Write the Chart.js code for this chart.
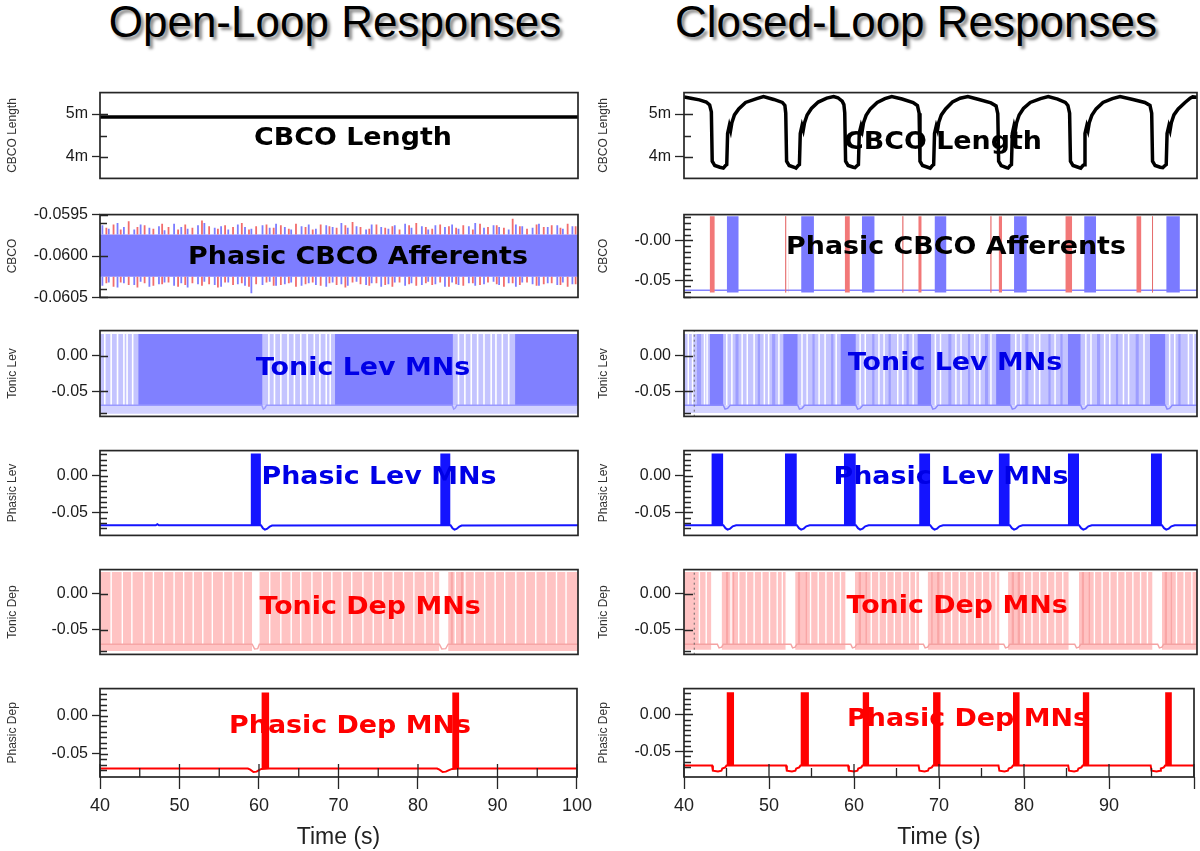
<!DOCTYPE html>
<html><head><meta charset="utf-8">
<script src="https://cdn.jsdelivr.net/npm/chart.js@4.4.1/dist/chart.umd.min.js"></script>
<style>
html,body{margin:0;padding:0;background:#fff;overflow:hidden;width:1200px;height:851px;}
#wrap{position:relative;width:1200px;height:851px;overflow:hidden;}
canvas{position:absolute;}
.main{position:absolute;top:0;font-family:'Liberation Sans',Arial,sans-serif;font-size:44px;line-height:44px;color:#000;text-shadow:3px 3px 3px rgba(0,0,0,0.45);white-space:nowrap;transform:translateX(-50%);}
.lbl{position:absolute;font-family:'DejaVu Sans',Verdana,sans-serif;font-weight:bold;font-size:24px;line-height:24px;white-space:nowrap;transform:translate(-50%,-50%) scaleX(1.12);z-index:5;}
</style></head><body><div id="wrap"></div>
<script>
// ================= DATA =================
const xTickVals = [40,45,50,55,60,65,70,75,80,85,90,95,100];
const xLabelValsOpen = [40,50,60,70,80,90,100];
const xLabelValsClosed = [40,50,60,70,80,90];
const xMajorTicks = [40,50,60,70,80,90,100];
const xMinorTicks = [45,55,65,75,85,95];

const lenTicks = [4,5];
const lenTickLabels = ['4m','5m'];
const lenMinor = [4.5];
const affOpenTicks = [-0.0605,-0.0600,-0.0595];
const affOpenTickLabels = ['-0.0605','-0.0600','-0.0595'];
const affOpenMinor = [-0.0604,-0.0596];
const mnTicks = [-0.05,0];
const mnTickLabels = ['-0.05','0.00'];
const affClosedTickLabels = ['-0.05','-0.00'];
const phasicMinor = [0.0286,0.0214,0.0143,0.0071,-0.0071,-0.0143,-0.0214,-0.0286,-0.0357,-0.0429,-0.0571,-0.0643,-0.0714];
const tonicMinor = [-0.08];

// ---- Open loop ----
const lenOpenT = [40,100];
const lenOpenV = [4.93,4.93];

const affOpenBand = [-0.06025,-0.05974];
const affBlueT = [40.3,41.1,42.2,43.0,44.3,45.1,46.2,47.4,48.1,49.3,
  50.2,51.0,52.3,53.1,54.4,55.2,56.1,57.3,58.2,59.0,
  60.4,61.3,62.1,63.2,64.0,65.3,66.2,67.1,68.4,69.2,
  70.3,71.1,72.2,73.4,74.1,75.3,76.2,77.0,78.3,79.1,
  80.4,81.2,82.1,83.3,84.2,85.0,86.3,87.1,88.2,89.4,
  90.1,91.3,92.2,93.0,94.3,95.1,96.2,97.4,98.1,99.3];
const affBlueUp = [-0.05963,-0.05967,-0.05960,-0.05965,-0.05968,-0.05962,-0.05966,-0.05964,-0.05969,-0.05961,
  -0.05965,-0.05967,-0.05963,-0.05960,-0.05966,-0.05964,-0.05968,-0.05962,-0.05965,-0.05967,
  -0.05963,-0.05966,-0.05961,-0.05965,-0.05968,-0.05964,-0.05962,-0.05967,-0.05963,-0.05965,
  -0.05960,-0.05966,-0.05964,-0.05968,-0.05962,-0.05965,-0.05967,-0.05963,-0.05961,-0.05966,
  -0.05964,-0.05968,-0.05963,-0.05965,-0.05962,-0.05967,-0.05964,-0.05960,-0.05966,-0.05963,
  -0.05965,-0.05968,-0.05962,-0.05964,-0.05966,-0.05961,-0.05965,-0.05963,-0.05967,-0.05964];
const affBlueDn = [-0.06036,-0.06032,-0.06038,-0.06033,-0.06035,-0.06031,-0.06037,-0.06034,-0.06032,-0.06036,
  -0.06033,-0.06038,-0.06034,-0.06031,-0.06035,-0.06037,-0.06032,-0.06034,-0.06036,-0.06045,
  -0.06035,-0.06031,-0.06036,-0.06034,-0.06032,-0.06036,-0.06033,-0.06035,-0.06037,-0.06032,
  -0.06034,-0.06036,-0.06031,-0.06035,-0.06033,-0.06037,-0.06034,-0.06032,-0.06036,-0.06033,
  -0.06035,-0.06031,-0.06034,-0.06037,-0.06032,-0.06035,-0.06033,-0.06036,-0.06034,-0.06031,
  -0.06035,-0.06033,-0.06037,-0.06032,-0.06034,-0.06036,-0.06033,-0.06035,-0.06032,-0.06034];
const affRedT = [40.8,41.7,42.6,43.6,44.7,45.6,46.7,47.8,48.6,49.8,
  50.7,51.6,52.8,53.7,54.8,55.7,56.7,57.8,58.7,59.6,
  60.9,61.8,62.7,63.7,64.6,65.8,66.7,67.7,68.8,69.7,
  70.8,71.7,72.7,73.8,74.7,75.8,76.7,77.6,78.8,79.7,
  80.9,81.7,82.7,83.8,84.7,85.6,86.8,87.7,88.7,89.8,
  90.7,91.8,92.7,93.6,94.8,95.7,96.7,97.8,98.7,99.7];
const affRedUp = [-0.05966,-0.05962,-0.05968,-0.05958,-0.05965,-0.05963,-0.05967,-0.05961,-0.05965,-0.05968,
  -0.05962,-0.05966,-0.05957,-0.05964,-0.05967,-0.05963,-0.05965,-0.05960,-0.05968,-0.05964,
  -0.05962,-0.05966,-0.05963,-0.05967,-0.05961,-0.05965,-0.05968,-0.05962,-0.05964,-0.05966,
  -0.05963,-0.05959,-0.05965,-0.05967,-0.05962,-0.05966,-0.05964,-0.05968,-0.05963,-0.05960,
  -0.05965,-0.05967,-0.05962,-0.05964,-0.05966,-0.05963,-0.05968,-0.05961,-0.05965,-0.05963,
  -0.05966,-0.05955,-0.05964,-0.05967,-0.05962,-0.05965,-0.05963,-0.05966,-0.05961,-0.05964];
const affRedDn = [-0.06033,-0.06037,-0.06032,-0.06035,-0.06038,-0.06033,-0.06036,-0.06034,-0.06032,-0.06037,
  -0.06035,-0.06033,-0.06036,-0.06034,-0.06038,-0.06032,-0.06035,-0.06033,-0.06037,-0.06034,
  -0.06032,-0.06036,-0.06035,-0.06033,-0.06037,-0.06034,-0.06032,-0.06036,-0.06033,-0.06035,
  -0.06038,-0.06032,-0.06034,-0.06036,-0.06033,-0.06035,-0.06037,-0.06032,-0.06034,-0.06036,
  -0.06033,-0.06035,-0.06032,-0.06037,-0.06034,-0.06036,-0.06033,-0.06035,-0.06032,-0.06034,
  -0.06037,-0.06033,-0.06035,-0.06032,-0.06036,-0.06034,-0.06033,-0.06035,-0.06037,-0.06034];

const tlevOpenDense = [[44.8,60.4],[69.5,84.3],[92.1,100]];
const tlevOpenGaps = [40.6,41.4,42.2,43.0,43.4,44.1,61.2,61.9,62.7,63.6,64.4,65.2,66.0,66.9,67.6,68.4,68.9,85.0,85.8,86.6,87.4,88.2,89.1,89.7,90.5,91.3];
const tlevOpenBaseT = [40,60.3,60.5,60.7,60.9,84.2,84.4,84.6,84.8,100];
const tlevOpenBaseV = [-0.069,-0.069,-0.0745,-0.073,-0.069,-0.069,-0.0745,-0.073,-0.069,-0.069];

const plevOpenBursts = [[58.9,60.2],[82.7,84.0]];
const plevOpenT = [40,47.0,47.2,47.4,58.9,60.2,60.45,60.7,60.95,61.3,61.6,82.7,84.0,84.25,84.5,84.75,85.1,85.4,100];
const plevOpenV = [-0.0675,-0.0675,-0.066,-0.0675,-0.0675,-0.0675,-0.0715,-0.0735,-0.0725,-0.0695,-0.068,-0.0675,-0.0675,-0.0715,-0.0735,-0.0725,-0.0695,-0.068,-0.0675];

const tdepOpenFill = [[40,59.1],[60.0,82.6],[83.7,100]];
const tdepOpenDark = [[84.0,84.3],[85.3,85.6]];
const tdepOpenLines = [41.4,42.8,44.0,45.5,46.7,48.0,49.3,50.5,51.7,52.9,54.1,55.5,56.7,58.0,
  61.3,62.7,64.0,65.2,66.6,67.9,69.1,70.4,71.6,73.0,74.3,75.5,76.8,78.1,79.4,80.8,81.9,
  84.6,85.8,87.0,88.3,89.6,90.8,92.2,93.4,94.7,96.0,97.3,98.5];
const tdepOpenBaseT = [40,59.1,59.4,59.8,60.0,82.6,82.9,83.4,83.7,100];
const tdepOpenBaseV = [-0.0705,-0.0705,-0.077,-0.0765,-0.0705,-0.0705,-0.077,-0.0765,-0.0705,-0.0705];

const pdepOpenBursts = [[60.3,61.3],[84.3,85.2]];
const pdepOpenT = [40,58.6,58.9,59.3,59.7,60.0,60.3,61.3,82.4,82.7,83.1,83.5,83.9,84.3,85.2,100];
const pdepOpenV = [-0.069,-0.069,-0.0705,-0.0735,-0.073,-0.071,-0.0695,-0.069,-0.069,-0.0705,-0.0735,-0.073,-0.071,-0.0695,-0.069,-0.069];

// ---- Closed loop ----
const lenClosedT = [40,40.8,41.8,42.6,43.0,43.2,43.3,43.6,44.2,44.6,44.85,
  45.0,45.1,45.3,45.45,45.6,45.9,46.4,47.2,48.5,49.3,50.5,51.5,51.8,51.9,52.0,52.3,52.9,53.1,53.35,
  53.5,53.6,53.8,53.95,54.1,54.4,54.9,55.7,56.7,57.5,58.0,58.5,58.7,58.8,58.9,59.2,59.8,60.0,60.25,
  60.4,60.5,60.7,60.85,61.0,61.3,61.8,62.6,63.5,64.3,65.5,66.8,67.3,67.5,67.6,67.9,68.5,68.8,69.05,
  69.2,69.3,69.5,69.65,69.8,70.1,70.6,71.4,72.3,73.2,74.5,75.9,76.5,76.7,76.8,77.1,77.7,77.9,78.15,
  78.3,78.4,78.6,78.75,78.9,79.2,79.7,80.5,81.7,82.6,83.7,84.6,84.9,85.1,85.2,85.5,86.1,86.4,86.65,
  86.8,86.9,87.1,87.25,87.4,87.7,88.2,89.0,90.1,91.0,92.5,93.9,94.5,94.7,94.8,95.1,95.7,96.0,96.25,
  96.4,96.5,96.7,96.85,97.0,97.3,97.8,98.6,99.2,99.5,100];
const lenClosedV = [5.40,5.37,5.33,5.28,5.21,5.05,3.90,3.80,3.76,3.74,3.80,
  3.82,4.55,4.73,4.62,4.80,4.98,5.12,5.27,5.36,5.41,5.34,5.27,5.20,5.02,3.90,3.80,3.76,3.74,3.80,
  3.82,4.55,4.73,4.63,4.80,4.98,5.13,5.28,5.37,5.41,5.38,5.30,5.22,5.03,3.90,3.80,3.76,3.75,3.80,
  3.82,4.56,4.72,4.62,4.80,4.97,5.12,5.27,5.36,5.41,5.35,5.27,5.20,5.02,3.90,3.80,3.76,3.74,3.80,
  3.82,4.55,4.72,4.63,4.81,4.98,5.12,5.28,5.37,5.41,5.34,5.26,5.19,5.01,3.90,3.80,3.75,3.74,3.80,
  3.82,4.55,4.73,4.62,4.80,4.98,5.13,5.27,5.36,5.41,5.35,5.27,5.20,5.02,3.90,3.80,3.76,3.74,3.80,
  3.82,4.55,4.72,4.62,4.80,4.97,5.12,5.27,5.36,5.41,5.34,5.27,5.20,5.02,3.90,3.80,3.76,3.75,3.80,
  3.82,4.55,4.72,4.62,4.80,4.98,5.12,5.27,5.37,5.40,5.39];

const affClosedBaseT = [40,100];
const affClosedBaseV = [-0.0625,-0.0625];
const affClosedBlue = [[45.0,46.4],[53.7,55.2],[60.8,62.3],[69.3,70.7],[78.6,80.1],[86.8,88.2],[96.4,98.0]];
const affClosedRed = [[43.0,43.6],[51.85,51.95],[52.2,52.28],[58.8,59.4],[65.55,65.65],[67.4,67.8],[75.85,75.95],[76.8,77.2],[84.6,85.4],[92.9,93.5],[94.75,94.85]];
const affClosedRedThin = [51.9,65.6,75.9,94.8];

const cursorT = [41.2];

const tlevClosedDense = [[43.0,44.6],[51.6,53.3],[58.3,60.1],[67.3,68.9],[76.5,78.2],[84.9,86.4],[94.5,96.3]];
const tlevClosedMid = [[41.5,42.0],[46.0,46.4],[48.6,48.9],[50.3,50.7],[55.0,55.3],[57.2,57.5],[62.0,62.3],[63.9,64.2],[66.0,66.3],[70.9,71.3],[73.2,73.5],[75.2,75.6],[79.9,80.3],[82.6,82.9],[84.0,84.3],[88.3,88.7],[90.5,90.8],[92.8,93.2],[97.8,98.1]];
const tlevClosedGaps = [40.5,41.0,42.4,42.7,45.0,45.6,46.8,47.4,48.2,49.4,49.9,51.1,53.8,54.4,55.8,56.5,57.8,60.6,61.2,62.8,63.4,65.0,65.6,66.8,69.4,70.0,71.8,72.4,74.0,74.6,75.9,78.8,79.4,81.0,81.6,83.4,87.0,87.6,89.2,89.8,91.4,92.0,93.8,96.8,97.4,99.0,99.6];
const tlevClosedBaseT = [40,44.6,44.8,45.1,45.4,53.3,53.5,53.8,54.1,60.1,60.3,60.6,60.9,68.9,69.1,69.4,69.7,78.2,78.4,78.7,79.0,86.4,86.6,86.9,87.2,96.3,96.5,96.8,97.1,100];
const tlevClosedBaseV = [-0.069,-0.069,-0.0745,-0.0735,-0.069,-0.069,-0.0745,-0.0735,-0.069,-0.069,-0.0745,-0.0735,-0.069,-0.069,-0.0745,-0.0735,-0.069,-0.069,-0.0745,-0.0735,-0.069,-0.069,-0.0745,-0.0735,-0.069,-0.069,-0.0745,-0.0735,-0.069,-0.069];

const plevClosedBursts = [[43.2,44.6],[51.8,53.2],[58.7,60.1],[67.5,68.8],[76.8,78.1],[84.9,86.2],[94.6,95.9]];
const plevClosedT = [40,44.6,44.85,45.1,45.4,45.7,46.1,53.2,53.45,53.7,54.0,54.3,54.7,60.1,60.35,60.6,60.9,61.2,61.6,68.8,69.05,69.3,69.6,69.9,70.3,78.1,78.35,78.6,78.9,79.2,79.6,86.2,86.45,86.7,87.0,87.3,87.7,95.9,96.15,96.4,96.7,97.0,97.4,100];
const plevClosedV = [-0.0675,
  -0.0675,-0.0715,-0.0735,-0.072,-0.069,-0.0675,
  -0.0675,-0.0715,-0.0735,-0.072,-0.069,-0.0675,
  -0.0675,-0.0715,-0.0735,-0.072,-0.069,-0.0675,
  -0.0675,-0.0715,-0.0735,-0.072,-0.069,-0.0675,
  -0.0675,-0.0715,-0.0735,-0.072,-0.069,-0.0675,
  -0.0675,-0.0715,-0.0735,-0.072,-0.069,-0.0675,
  -0.0675,-0.0715,-0.0735,-0.072,-0.069,-0.0675,
  -0.0675];

const tdepClosedFill = [[40,43.2],[44.4,51.9],[53.0,58.9],[60.0,67.5],[68.5,76.9],[77.9,85.0],[86.2,94.8],[95.9,100]];
const tdepClosedDark = [[44.9,45.2],[45.7,45.9],[53.3,53.6],[54.2,54.4],[60.4,60.7],[61.2,61.4],[68.9,69.1],[69.6,69.9],[78.3,78.6],[79.0,79.3],[86.5,86.8],[87.3,87.5],[96.2,96.5],[96.9,97.1]];
const tdepClosedLines = [41.8,42.6,45.5,46.4,47.3,48.2,49.1,50.0,50.9,51.5,54.8,55.7,56.6,57.5,58.3,61.9,62.8,63.7,64.6,65.5,66.4,67.1,70.4,71.3,72.2,73.1,74.0,74.9,75.8,76.5,79.8,80.7,81.6,82.5,83.4,84.3,88.0,88.9,89.8,90.7,91.6,92.5,93.4,94.2,97.6,98.5,99.4];
const tdepClosedBaseT = [40,43.9,44.1,44.4,44.6,52.5,52.7,53.0,53.2,59.5,59.7,60.0,60.2,68.0,68.2,68.5,68.7,77.4,77.6,77.9,78.1,85.7,85.9,86.2,86.4,95.4,95.6,95.9,96.1,100];
const tdepClosedBaseV = [-0.0705,-0.0705,-0.0755,-0.0745,-0.0705,-0.0705,-0.0755,-0.0745,-0.0705,-0.0705,-0.0755,-0.0745,-0.0705,-0.0705,-0.0755,-0.0745,-0.0705,-0.0705,-0.0755,-0.0745,-0.0705,-0.0705,-0.0755,-0.0745,-0.0705,-0.0705,-0.0755,-0.0745,-0.0705,-0.0705];

const pdepClosedBursts = [[45.0,45.9],[53.7,54.7],[61.0,61.8],[69.3,70.2],[78.7,79.5],[86.9,87.7],[96.6,97.4]];
const pdepClosedT = [40,43.3,43.4,44.0,44.4,44.5,44.85,45.0,52.0,52.1,52.7,53.1,53.2,53.55,53.7,59.3,59.4,60.0,60.4,60.5,60.85,61.0,67.6,67.7,68.3,68.7,68.8,69.15,69.3,77.0,77.1,77.7,78.1,78.2,78.55,78.7,85.2,85.3,85.9,86.3,86.4,86.75,86.9,94.9,95.0,95.6,96.0,96.1,96.45,96.6,100];
const pdepClosedV = [-0.0695,
  -0.0695,-0.0765,-0.0775,-0.0765,-0.0735,-0.072,-0.0695,
  -0.0695,-0.0765,-0.0775,-0.0765,-0.0735,-0.072,-0.0695,
  -0.0695,-0.0765,-0.0775,-0.0765,-0.0735,-0.072,-0.0695,
  -0.0695,-0.0765,-0.0775,-0.0765,-0.0735,-0.072,-0.0695,
  -0.0695,-0.0765,-0.0775,-0.0765,-0.0735,-0.072,-0.0695,
  -0.0695,-0.0765,-0.0775,-0.0765,-0.0735,-0.072,-0.0695,
  -0.0695,-0.0765,-0.0775,-0.0765,-0.0735,-0.072,-0.0695,
  -0.0695];

// ================= HELPERS =================
const FONT = "'Liberation Sans', Arial, sans-serif";
const CLEAR = 'rgba(0,0,0,0)';
function pts(ts, vs){ return ts.map((t,i)=>({x:t,y:vs[i]})); }
function rectPts(iv, lo, hi){ const o=[]; iv.forEach(([a,b])=>{ o.push({x:a,y:lo},{x:a,y:hi},{x:b,y:hi},{x:b,y:lo},{x:b,y:null}); }); return o; }
function vlinePts(ts, lo, hi){ const o=[]; ts.forEach(t=>{ o.push({x:t,y:lo},{x:t,y:hi},{x:t,y:null}); }); return o; }
function hairPts(ts, base, vs){ const o=[]; ts.forEach((t,i)=>{ o.push({x:t,y:base},{x:t,y:vs[i]},{x:t,y:null}); }); return o; }
function fillDs(data, lo, color){ return {data, borderWidth:1, borderColor:CLEAR, backgroundColor:color, fill:{value:lo}, pointRadius:0, spanGaps:false, tension:0}; }
function lineDs(data, color, w, dash){ return {data, borderColor:color, borderWidth:w, backgroundColor:color, fill:false, pointRadius:0, spanGaps:false, tension:0, borderDash:dash||[], borderCapStyle:'butt', borderJoinStyle:'miter'}; }

// ================= LAYOUT =================
const COLS = [
  {canvasL:0, canvasR:598, axisW:100, padR:20, tickLen:8, titlePad:5, xLabels:xLabelValsOpen},
  {canvasL:590, canvasR:1200, axisW:94, padR:3, tickLen:9, titlePad:6, xLabels:xLabelValsClosed}
];
const ROWS = [[89,182],[211,301],[327,420],[447,539],[566,658],[685,777]];

const framePlugin = {
  id:'frame',
  afterDatasetsDraw(chart, args, o){
    const ctx = chart.ctx, a = chart.chartArea, ys = chart.scales.y, xs = chart.scales.x;
    ctx.save();
    ctx.strokeStyle = '#262626';
    ctx.lineWidth = 1.3;
    ctx.beginPath();
    (o.yMajor||[]).forEach(v=>{ const y=Math.round(ys.getPixelForValue(v))+0.5; ctx.moveTo(a.left,y); ctx.lineTo(a.left+o.inLen,y); });
    (o.yMinor||[]).forEach(v=>{ const y=Math.round(ys.getPixelForValue(v))+0.5; ctx.moveTo(a.left,y); ctx.lineTo(a.left+7,y); });
    if (o.showX){
      xMajorTicks.forEach(v=>{ const x=xs.getPixelForValue(v); ctx.moveTo(x,a.bottom); ctx.lineTo(x,a.bottom-13); });
      xMinorTicks.forEach(v=>{ const x=xs.getPixelForValue(v); ctx.moveTo(x,a.bottom); ctx.lineTo(x,a.bottom-9); });
    }
    ctx.stroke();
    ctx.lineWidth = 1.7;
    ctx.strokeRect(a.left, a.top, a.right-a.left, a.bottom-a.top);
    ctx.restore();
  }
};

const BLUE = '#1414ff', RED = '#ff0000';
const panels = [
  // ---------- Open loop ----------
  {col:0,row:0,yMin:3.5,yMax:5.5,ticks:lenTicks,labels:lenTickLabels,minor:lenMinor,title:'CBCO Length',
   ds:()=>[ lineDs(pts(lenOpenT,lenOpenV),'#000',3.5) ]},
  {col:0,row:1,yMin:-0.0605,yMax:-0.0595,ticks:affOpenTicks,labels:affOpenTickLabels,minor:affOpenMinor,title:'CBCO',
   ds:()=>[ fillDs(rectPts([[40,100]],affOpenBand[0],affOpenBand[1]),affOpenBand[0],'#7d7dff'),
            lineDs(hairPts(affRedT,affOpenBand[1],affRedUp),'#f26c6c',1.8),
            lineDs(hairPts(affRedT,affOpenBand[0],affRedDn),'#f26c6c',1.8),
            lineDs(hairPts(affBlueT,affOpenBand[1],affBlueUp),'#7d7dff',1.8),
            lineDs(hairPts(affBlueT,affOpenBand[0],affBlueDn),'#7d7dff',1.8) ]},
  {col:0,row:2,yMin:-0.0846,yMax:0.0346,ticks:mnTicks,labels:mnTickLabels,minor:tonicMinor,title:'Tonic Lev',
   ds:()=>[ fillDs(rectPts([[40,100]],-0.081,-0.069),-0.081,'#d2d2ff'),
            fillDs(rectPts([[40,100]],-0.069,0.030),-0.069,'#c4c4ff'),
            lineDs(vlinePts(tlevOpenGaps,-0.069,0.030),'#ffffff',1.6),
            fillDs(rectPts(tlevOpenDense,-0.069,0.030),-0.069,'#8080ff'),
            lineDs(pts(tlevOpenBaseT,tlevOpenBaseV),'#9a9aff',1.5) ]},
  {col:0,row:3,yMin:-0.0813,yMax:0.0338,ticks:mnTicks,labels:mnTickLabels,minor:phasicMinor,title:'Phasic Lev',
   ds:()=>[ lineDs(pts(plevOpenT,plevOpenV),BLUE,2),
            fillDs(rectPts(plevOpenBursts,-0.0675,0.030),-0.0675,BLUE) ]},
  {col:0,row:4,yMin:-0.0846,yMax:0.0333,ticks:mnTicks,labels:mnTickLabels,minor:tonicMinor,title:'Tonic Dep',
   ds:()=>[ fillDs(rectPts(tdepOpenFill,-0.080,0.030),-0.080,'#ffc3c3'),
            fillDs(rectPts(tdepOpenDark,-0.0705,0.030),-0.0705,'#f9a8a8'),
            lineDs(vlinePts(tdepOpenLines,-0.0705,0.030),'#ffffff',1.4),
            lineDs(pts(tdepOpenBaseT,tdepOpenBaseV),'#f6a6a6',1.4) ]},
  {col:0,row:5,yMin:-0.08,yMax:0.035,ticks:mnTicks,labels:mnTickLabels,minor:phasicMinor,title:'Phasic Dep',
   ds:()=>[ lineDs(pts(pdepOpenT,pdepOpenV),RED,2),
            fillDs(rectPts(pdepOpenBursts,-0.069,0.030),-0.069,RED) ]},
  // ---------- Closed loop ----------
  {col:1,row:0,yMin:3.5,yMax:5.5,ticks:lenTicks,labels:lenTickLabels,minor:lenMinor,title:'CBCO Length',
   ds:()=>[ lineDs(pts(lenClosedT,lenClosedV),'#000',3.5) ]},
  {col:1,row:1,yMin:-0.0715,yMax:0.032,ticks:mnTicks,labels:affClosedTickLabels,minor:phasicMinor,title:'CBCO',
   ds:()=>[ lineDs(pts(affClosedBaseT,affClosedBaseV),'#8383ff',1.6),
            fillDs(rectPts(affClosedRed,-0.0655,0.030),-0.0655,'#f27878'),
            lineDs(vlinePts(affClosedRedThin,-0.0655,0.030),'#e56a6a',1),
            fillDs(rectPts(affClosedBlue,-0.0655,0.030),-0.0655,'#7a7aff') ]},
  {col:1,row:2,yMin:-0.0846,yMax:0.0346,ticks:mnTicks,labels:mnTickLabels,minor:tonicMinor,title:'Tonic Lev',
   ds:()=>[ fillDs(rectPts([[40,100]],-0.080,-0.069),-0.080,'#d4d4ff'),
            fillDs(rectPts([[40,100]],-0.069,0.030),-0.069,'#c4c4ff'),
            lineDs(vlinePts(tlevClosedGaps,-0.069,0.030),'#ffffff',1.5),
            fillDs(rectPts(tlevClosedMid,-0.069,0.030),-0.069,'#9e9eff'),
            fillDs(rectPts(tlevClosedDense,-0.069,0.030),-0.069,'#8080ff'),
            lineDs(pts(tlevClosedBaseT,tlevClosedBaseV),'#8c8cff',1.5),
            lineDs(vlinePts(cursorT,-0.085,0.035),'#666',1,[2,3]) ]},
  {col:1,row:3,yMin:-0.0813,yMax:0.0338,ticks:mnTicks,labels:mnTickLabels,minor:phasicMinor,title:'Phasic Lev',
   ds:()=>[ lineDs(pts(plevClosedT,plevClosedV),BLUE,2),
            fillDs(rectPts(plevClosedBursts,-0.0675,0.030),-0.0675,BLUE) ]},
  {col:1,row:4,yMin:-0.0846,yMax:0.0333,ticks:mnTicks,labels:mnTickLabels,minor:tonicMinor,title:'Tonic Dep',
   ds:()=>[ fillDs(rectPts(tdepClosedFill,-0.078,0.030),-0.078,'#ffc3c3'),
            fillDs(rectPts(tdepClosedDark,-0.0705,0.030),-0.0705,'#f9a6a6'),
            lineDs(vlinePts(tdepClosedLines,-0.0705,0.030),'#ffffff',1.4),
            lineDs(pts(tdepClosedBaseT,tdepClosedBaseV),'#f4a2a2',1.4),
            lineDs(vlinePts(cursorT,-0.085,0.035),'#666',1,[2,3]) ]},
  {col:1,row:5,yMin:-0.085,yMax:0.035,ticks:mnTicks,labels:mnTickLabels,minor:phasicMinor,title:'Phasic Dep',
   ds:()=>[ lineDs(pts(pdepClosedT,pdepClosedV),RED,2),
            fillDs(rectPts(pdepClosedBursts,-0.0695,0.030),-0.0695,RED) ]}
];

const wrap = document.getElementById('wrap');
function makePanel(p){
  const col = COLS[p.col];
  const [bt, bb] = ROWS[p.row];
  const isBottom = p.row === 5;
  const padT = 10, padB = isBottom ? 0 : 10;
  const top = bt - padT;
  const height = isBottom ? (851 - top) : (bb - bt) + padT + padB;
  const cv = document.createElement('canvas');
  cv.width = col.canvasR - col.canvasL; cv.height = height;
  cv.style.left = col.canvasL + 'px'; cv.style.top = top + 'px';
  cv.style.width = cv.width + 'px'; cv.style.height = cv.height + 'px';
  wrap.appendChild(cv);
  const datasets = p.ds().reverse();
  new Chart(cv, {
    type:'line',
    data:{datasets},
    plugins:[framePlugin],
    options:{
      responsive:false, animation:false, events:[],
      layout:{padding:{left:0,right:col.padR,top:padT,bottom:padB}},
      plugins:{legend:{display:false}, tooltip:{enabled:false},
        frame:{yMajor:p.ticks, yMinor:p.minor, inLen:col.tickLen, showX:isBottom}},
      scales:{
        x:{type:'linear', min:40, max:100, display:isBottom,
           afterBuildTicks:s=>{ s.ticks = xTickVals.map(v=>({value:v})); },
           afterFit:s=>{ if (isBottom) s.height = 74; },
           ticks:{autoSkip:false, maxRotation:0, minRotation:0, padding:6, color:'#222',
                  font:{family:FONT, size:18},
                  callback:(v)=> col.xLabels.includes(v) ? String(v) : ''},
           grid:{drawOnChartArea:false, drawTicks:true, tickLength:12, tickWidth:1.3,
                 tickColor:(c)=> (c.tick && c.tick.value % 10 === 0) ? '#262626' : CLEAR},
           border:{display:false},
           title:{display:true, text:'Time (s)', color:'#222', font:{family:FONT, size:23}, padding:{top:0,bottom:0}}},
        y:{min:p.yMin, max:p.yMax,
           afterBuildTicks:s=>{ s.ticks = p.ticks.map(v=>({value:v})); },
           afterFit:s=>{ s.width = col.axisW; },
           ticks:{autoSkip:false, padding:4, color:'#1a1a1a', font:{family:FONT, size:16},
                  callback:(v,i)=> p.labels[i]},
           grid:{drawOnChartArea:false, drawTicks:true, tickLength:col.tickLen, tickWidth:1.3, tickColor:'#262626'},
           border:{display:false},
           title:{display:true, text:p.title, color:'#333', font:{family:FONT, size:12}, padding:{top:col.titlePad,bottom:0}}}
      }
    }
  });
}
panels.forEach(makePanel);

// ================= TEXT OVERLAYS =================
const mainTitles = [
  {t:'Open-Loop Responses', x:335},
  {t:'Closed-Loop Responses', x:916}
];
mainTitles.forEach(m=>{ const d=document.createElement('div'); d.className='main'; d.textContent=m.t; d.style.left=m.x+'px'; wrap.appendChild(d); });

const panelLabels = [
  {t:'CBCO Length', x:353, y:137, c:'#000'},
  {t:'Phasic CBCO Afferents', x:358, y:256, c:'#000'},
  {t:'Tonic Lev MNs', x:363, y:367, c:'#0000e6'},
  {t:'Phasic Lev MNs', x:379, y:476, c:'#0000e6'},
  {t:'Tonic Dep MNs', x:370, y:606, c:'#ff0000'},
  {t:'Phasic Dep MNs', x:350, y:725, c:'#ff0000'},
  {t:'CBCO Length', x:943, y:141, c:'#000'},
  {t:'Phasic CBCO Afferents', x:956, y:246, c:'#000'},
  {t:'Tonic Lev MNs', x:955, y:362, c:'#0000e6'},
  {t:'Phasic Lev MNs', x:951, y:476, c:'#0000e6'},
  {t:'Tonic Dep MNs', x:957, y:605, c:'#ff0000'},
  {t:'Phasic Dep MNs', x:968, y:718, c:'#ff0000'}
];
panelLabels.forEach(l=>{ const d=document.createElement('div'); d.className='lbl'; d.textContent=l.t; d.style.left=l.x+'px'; d.style.top=l.y+'px'; d.style.color=l.c; wrap.appendChild(d); });
</script>
</body></html>
